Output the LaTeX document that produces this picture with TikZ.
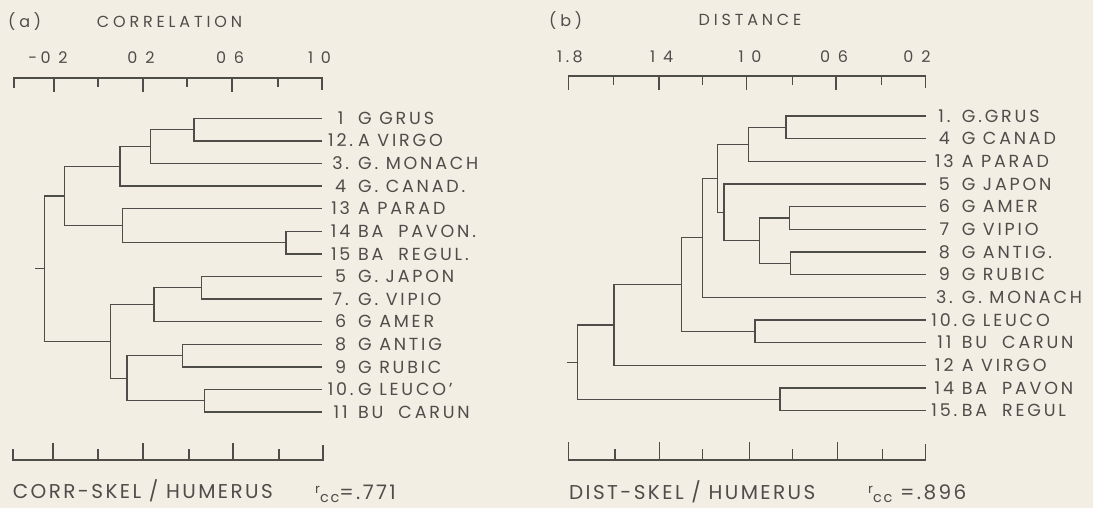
\documentclass[tikz,border=0pt]{standalone}
\usepackage{fontspec}
\setmainfont{Poppins}
\newfontfamily\leaffont{Poppins}[LetterSpace=16,Numbers=Monospaced]
\newfontfamily\titlefont{Poppins}[LetterSpace=24]
\newfontfamily\tickfont{Poppins}[LetterSpace=22]
\newfontfamily\footfont{Poppins}[LetterSpace=12]
\usetikzlibrary{positioning}
\definecolor{paper}{RGB}{243,238,228}
\definecolor{ink}{RGB}{78,77,74}
\newcommand{\taxon}[2]{\makebox[23pt][c]{#1}\hspace{6pt}#2}
\newcommand{\rcc}{{\fontsize{13}{13}\selectfont\raisebox{6pt}{r}}{\fontsize{14.5}{14.5}\selectfont\raisebox{-3pt}{cc}}}

\begin{document}
\begin{tikzpicture}[x=1pt,y=-1pt,
  tree/.style={draw=ink, line width=1.3pt},
  axis/.style={draw=ink, line width=1.2pt},
  leaf/.style={anchor=west, inner xsep=7pt, inner ysep=0pt, text=ink, font=\leaffont\fontsize{17.5}{17.5}\selectfont, text height=12.2pt, text depth=0pt},
  tick/.style={anchor=base, inner sep=0pt, text=ink, font=\tickfont\fontsize{16}{16}\selectfont},
  title/.style={anchor=base, inner sep=0pt, text=ink, font=\titlefont\fontsize{16}{16}\selectfont},
  foot/.style={anchor=base west, inner sep=0pt, text=ink, font=\footfont\fontsize{20}{20}\selectfont}]
\fill[paper] (0,0) rectangle (1093,508);
\useasboundingbox (0,0) rectangle (1093,508);

% (a) correlation
\node[title, anchor=base west] (ltag) at (8,28) {(a)};
\node[title] (ltitle) at (169.5,28) {CORRELATION};
\node[tick] (lt1) at (48,64) {-0 2};
\node[tick] (lt2) at (141,64) {0 2};
\node[tick] (lt3) at (230,64) {0 6};
\node[tick] (lt4) at (319.5,64) {1 0};
\draw[axis] (14,88) -- (14,78) -- (322,78) -- (322,90);
\draw[axis] (54,78) -- (54,92) (98,78) -- (98,87) (143,78) -- (143,92) (187,78) -- (187,87) (232,78) -- (232,92) (278,78) -- (278,87);
\draw[axis] (13,449) -- (13,460) -- (323,460) -- (323,445);
\draw[axis] (53,460) -- (53,443) (98,460) -- (98,449) (143,460) -- (143,443) (189,460) -- (189,449) (233,460) -- (233,443) (279,460) -- (279,449);

\node[leaf] (l1) at (322,118.3) {\taxon{1}{G GRUS}};
\node[leaf] (l12) at (322,140.9) {\taxon{12.}{A VIRGO}};
\node[leaf] (l3) at (322,163.5) {\taxon{3.}{G. MONACH}};
\node[leaf] (l4) at (322,186.1) {\taxon{4}{G. CANAD.}};
\node[leaf] (l13) at (322,208.7) {\taxon{13}{A PARAD}};
\node[leaf] (l14) at (322,231.3) {\taxon{14}{BA\ \ PAVON.}};
\node[leaf] (l15) at (322,253.9) {\taxon{15}{BA\ \ REGUL.}};
\node[leaf] (l5) at (322,276.5) {\taxon{5}{G. JAPON}};
\node[leaf] (l7) at (322,299.1) {\taxon{7.}{G. VIPIO}};
\node[leaf] (l6) at (322,321.7) {\taxon{6}{G AMER}};
\node[leaf] (l8) at (322,344.3) {\taxon{8}{G ANTIG}};
\node[leaf] (l9) at (322,366.9) {\taxon{9}{G RUBIC}};
\node[leaf] (l10) at (322,389.5) {\taxon{10.}{G LEUCO’}};
\node[leaf] (l11) at (322,412.1) {\taxon{11}{BU\ \ CARUN}};

\coordinate (lm1) at (194,129.6);
\coordinate (lm2) at (150.7,146.6);
\coordinate (lm3) at (120,166.3);
\coordinate (lm4) at (286,242.6);
\coordinate (lm5) at (122.7,225.7);
\coordinate (lm6) at (64.3,196);
\coordinate (lm7) at (201.7,287.8);
\coordinate (lm8) at (154,304.8);
\coordinate (lm9) at (182.7,355.6);
\coordinate (lm10) at (204.3,400.8);
\coordinate (lm11) at (127,378.2);
\coordinate (lm12) at (110.3,341.5);
\coordinate (lroot) at (44.3,268.8);
\coordinate (lstub) at (35,268.8);
\draw[tree] (l1.west) -| (lm1) |- (l12.west);
\draw[tree] (lm1) -| (lm2) |- (l3.west);
\draw[tree] (lm2) -| (lm3) |- (l4.west);
\draw[tree] (l14.west) -| (lm4) |- (l15.west);
\draw[tree] (l13.west) -| (lm5) |- (lm4);
\draw[tree] (lm3) -| (lm6) |- (lm5);
\draw[tree] (l5.west) -| (lm7) |- (l7.west);
\draw[tree] (lm7) -| (lm8) |- (l6.west);
\draw[tree] (l8.west) -| (lm9) |- (l9.west);
\draw[tree] (l10.west) -| (lm10) |- (l11.west);
\draw[tree] (lm9) -| (lm11) |- (lm10);
\draw[tree] (lm8) -| (lm12) |- (lm11);
\draw[tree] (lm6) -| (lroot) |- (lm12);
\draw[tree] (lroot) -- (lstub);

\node[foot] (lfoot) at (12.7,498) {CORR-SKEL / HUMERUS};
\node[foot] (lrcc) at (315,499) {\rcc=.771};

% (b) distance
\node[title, anchor=base west] (rtag) at (549,26.7) {(b)};
\node[title] (rtitle) at (750,26) {DISTANCE};
\node[tick] (rt1) at (570,62.7) {1.8};
\node[tick] (rt2) at (661.7,62.7) {1 4};
\node[tick] (rt3) at (750,62.7) {1 0};
\node[tick] (rt4) at (834,62.7) {0 6};
\node[tick] (rt5) at (917,62.7) {0 2};
\draw[axis] (568.3,90) -- (568.3,76) -- (925.7,76) -- (925.7,88);
\draw[axis] (613.3,76) -- (613.3,85) (659,76) -- (659,90) (702.7,76) -- (702.7,85) (746.7,76) -- (746.7,90) (792.7,76) -- (792.7,85) (836,76) -- (836,90) (881.7,76) -- (881.7,85);
\draw[axis] (568.3,442) -- (568.3,460) -- (925.7,460) -- (925.7,444);
\draw[axis] (615,460) -- (615,449) (659.3,460) -- (659.3,442) (702.7,460) -- (702.7,449) (749.3,460) -- (749.3,442) (792.7,460) -- (792.7,449) (837.7,460) -- (837.7,442) (882.3,460) -- (882.3,449);

\node[leaf] (r1) at (925.7,116) {\taxon{1.}{G.GRUS}};
\node[leaf] (r4) at (925.7,138.7) {\taxon{4}{G CANAD}};
\node[leaf] (r13) at (925.7,161.3) {\taxon{13}{A PARAD}};
\node[leaf] (r5) at (925.7,184) {\taxon{5}{G JAPON}};
\node[leaf] (r6) at (925.7,206.7) {\taxon{6}{G AMER}};
\node[leaf] (r7) at (925.7,229.3) {\taxon{7}{G VIPIO}};
\node[leaf] (r8) at (925.7,252) {\taxon{8}{G ANTIG.}};
\node[leaf] (r9) at (925.7,274.7) {\taxon{9}{G RUBIC}};
\node[leaf] (r3) at (925.7,297.3) {\taxon{3.}{G. MONACH}};
\node[leaf] (r10) at (925.7,320) {\taxon{10.}{G LEUCO}};
\node[leaf] (r11) at (925.7,342.7) {\taxon{11}{BU\ \ CARUN}};
\node[leaf] (r12) at (925.7,365.3) {\taxon{12}{A VIRGO}};
\node[leaf] (r14) at (925.7,388) {\taxon{14}{BA\ \ PAVON}};
\node[leaf] (r15) at (925.7,410.7) {\taxon{15.}{BA\ \ REGUL}};

\coordinate (rm1) at (786,127.3);
\coordinate (rm2) at (748.3,144.3);
\coordinate (rm3) at (789.3,218);
\coordinate (rm4) at (790.7,263.3);
\coordinate (rm5) at (759.3,240.7);
\coordinate (rm6) at (724,212.3);
\coordinate (rm7) at (717.7,178.3);
\coordinate (rm8) at (702.3,237.8);
\coordinate (rm9) at (755,331.3);
\coordinate (rm10) at (681.7,284.6);
\coordinate (rm11) at (614,325);
\coordinate (rm12) at (780,399.3);
\coordinate (rroot) at (577.3,362.2);
\coordinate (rstub) at (567.3,362.2);
\draw[tree] (r1.west) -| (rm1) |- (r4.west);
\draw[tree] (rm1) -| (rm2) |- (r13.west);
\draw[tree] (r6.west) -| (rm3) |- (r7.west);
\draw[tree] (r8.west) -| (rm4) |- (r9.west);
\draw[tree] (rm3) -| (rm5) |- (rm4);
\draw[tree] (r5.west) -| (rm6) |- (rm5);
\draw[tree] (rm2) -| (rm7) |- (rm6);
\draw[tree] (rm7) -| (rm8) |- (r3.west);
\draw[tree] (r10.west) -| (rm9) |- (r11.west);
\draw[tree] (rm8) -| (rm10) |- (rm9);
\draw[tree] (rm10) -| (rm11) |- (r12.west);
\draw[tree] (r14.west) -| (rm12) |- (r15.west);
\draw[tree] (rm11) -| (rroot) |- (rm12);
\draw[tree] (rroot) -- (rstub);

\node[foot] (rfoot) at (569,499) {DIST-SKEL / HUMERUS};
\node[foot] (rrcc) at (868,499) {\rcc\ =.896};
\end{tikzpicture}
\end{document}
